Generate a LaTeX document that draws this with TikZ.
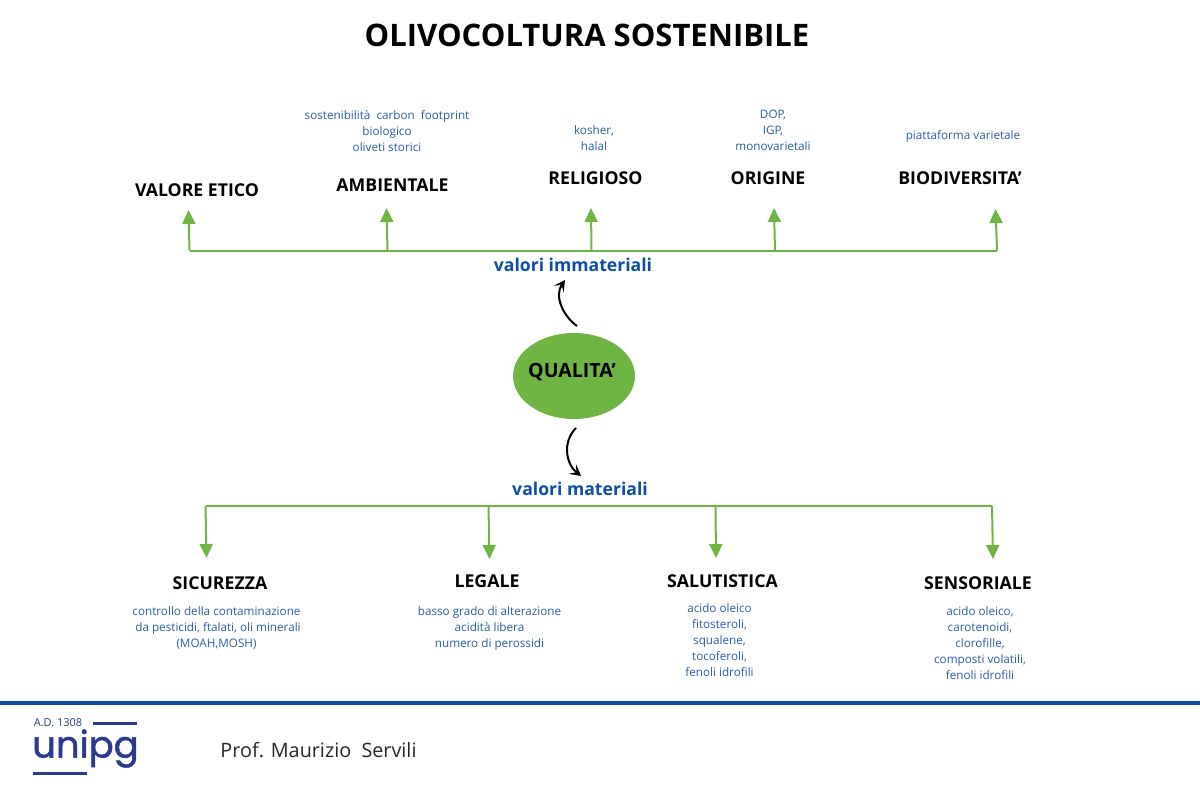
\documentclass[tikz,border=0pt]{standalone}
\usepackage{fontspec}
\setmainfont{Open Sans}
\newfontfamily\logofont[FakeBold=1.4]{Poppins}
\usepackage{xcolor}
\usetikzlibrary{arrows.meta,positioning,shapes.geometric}
\definecolor{leafc}{HTML}{6FB544}
\definecolor{bluec}{HTML}{0B4EA2}
\definecolor{notec}{HTML}{2A5CA8}
\definecolor{navyc}{HTML}{2B3990}
\tikzset{
  ar/.style={-{Triangle[length=14pt,width=13pt]},line width=2pt,leafc},
  bus/.style={line width=2pt,leafc},
  curv/.style={-{Stealth[length=11pt,width=12pt,inset=5pt]},line width=2pt,black},
  head/.style={font=\fontsize{17.7}{20}\selectfont\bfseries,black},
  note/.style={font=\fontsize{11.7}{16}\selectfont,notec,align=center},
  branch/.style={font=\fontsize{17.6}{20}\selectfont\bfseries,bluec}
}
\begin{document}
\begin{tikzpicture}[x=1pt,y=-1pt]
\useasboundingbox (0,0) rectangle (1200,800);
\node[font=\fontsize{31}{36}\selectfont\bfseries] (title) at (587,35.5) {OLIVOCOLTURA SOSTENIBILE};
% immateriali
\node[head] (etico) at (197,190.5) {VALORE ETICO};
\node[head] (ambient) at (392.5,185.5) {AMBIENTALE};
\node[head] (relig) at (595.5,178.5) {RELIGIOSO};
\node[head] (orig) at (768,178.5) {ORIGINE};
\node[head] (biodiv) at (960,178.5) {BIODIVERSITA’};
\node[note] (nambient) at (387,131) {sostenibilità\ \ carbon\ \ footprint\\biologico\\oliveti storici};
\node[note] (nrelig) at (594,138.5) {kosher,\\halal};
\node[note] (norig) at (773,130) {DOP,\\IGP,\\monovarietali};
\node[note] (nbiodiv) at (963,136.5) {piattaforma varietale};
\node[branch] (immat) at (573,264.5) {valori immateriali};
\coordinate (bl) at (189.5,250.5);
\coordinate (br) at (997,250.5);
\coordinate (b2) at (387.5,250.5);
\coordinate (b3) at (591.5,250.5);
\coordinate (b4) at (775,250.5);
\coordinate (t1) at (188.5,210);
\coordinate (t2) at (386.5,208);
\coordinate (t3) at (591,208);
\coordinate (t4) at (774,208);
\coordinate (t5) at (995.5,209);
\draw[bus] (bl) -- (br);
\draw[ar] (bl) -- (t1);
\draw[ar] (b2) -- (t2);
\draw[ar] (b3) -- (t3);
\draw[ar] (b4) -- (t4);
\draw[ar] (br) -- (t5);
% centro
\node[ellipse,fill=leafc,minimum width=122pt,minimum height=86pt,inner sep=0pt] (qual) at (574,376) {};
\node[head,font=\fontsize{19.6}{22}\selectfont\bfseries] (qualt) at (572,372.5) {QUALITA’};
\coordinate (u0) at (577,326);
\coordinate (u1) at (565,280);
\coordinate (d0) at (576,428);
\coordinate (d1) at (581,476);
\draw[curv] (u0) .. controls (563,316) and (554,296) .. (u1);
\draw[curv] (d0) .. controls (562,442) and (566,464) .. (d1);
% materiali
\node[branch] (mat) at (580,488.5) {valori materiali};
\coordinate (ml) at (205.5,506);
\coordinate (mr) at (992,506);
\coordinate (m2) at (488.5,506);
\coordinate (m3) at (715.5,506);
\coordinate (e1) at (206.5,558);
\coordinate (e2) at (489.5,559);
\coordinate (e3) at (716,558);
\coordinate (e4) at (993,559);
\draw[bus] (ml) -- (mr);
\draw[ar] (ml) -- (e1);
\draw[ar] (m2) -- (e2);
\draw[ar] (m3) -- (e3);
\draw[ar] (mr) -- (e4);
\node[head] (sicur) at (220,583.5) {SICUREZZA};
\node[head] (legale) at (487,581.5) {LEGALE};
\node[head] (salut) at (722.5,581.5) {SALUTISTICA};
\node[head] (sens) at (978,583.5) {SENSORIALE};
\node[note] (nsicur) at (216.5,628) {controllo della contaminazione\\\ da pesticidi, ftalati, oli minerali\\(MOAH,MOSH)};
\node[note] (nlegale) at (489.5,628) {basso grado di alterazione\\acidità libera\\numero di perossidi};
\node[note] (nsalut) at (719.5,640) {acido oleico\\fitosteroli,\\squalene,\\tocoferoli,\\fenoli idrofili};
\node[note] (nsens) at (980,643) {acido oleico,\\carotenoidi,\\clorofille,\\composti volatili,\\fenoli idrofili};
% piede
\fill[bluec] (0,701) rectangle (1200,705);
\node[font=\fontsize{11}{12}\selectfont,navyc] (ad) at (58,722.5) {A.D. 1308};
\coordinate (l1) at (93,723.5);
\coordinate (l2) at (137,723.5);
\coordinate (l3) at (33,773.5);
\coordinate (l4) at (87,773.5);
\draw[navyc,line width=3pt] (l1) -- (l2);
\draw[navyc,line width=3pt] (l3) -- (l4);
\node[font=\fontsize{37}{40}\selectfont\logofont,navyc] (logo) at (85.5,748.5) {unipg};
\node[font=\fontsize{19.8}{24}\selectfont,black!85] (prof) at (318.5,750.5) {Prof. Maurizio\ \ Servili};
\end{tikzpicture}
\end{document}
